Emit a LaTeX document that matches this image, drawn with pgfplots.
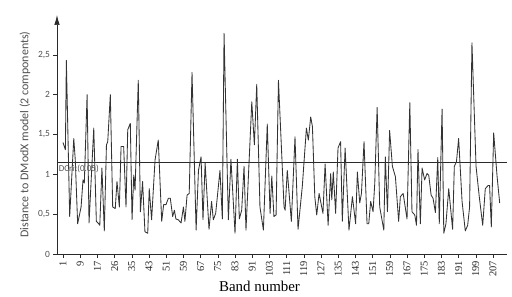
\documentclass[border=0pt]{standalone}
\usepackage{fontspec}
\setmainfont{Liberation Serif}
\newfontfamily\calfont{Carlito}
\usepackage{pgfplots}
\pgfplotsset{compat=1.18}
\usetikzlibrary{arrows.meta}
\definecolor{txtgray}{HTML}{505050}
\definecolor{linegray}{HTML}{2A2A2A}
\begin{document}
\begin{tikzpicture}
\path[use as bounding box] (0,0) rectangle (512bp,297bp);
\begin{axis}[
  at={(57bp,43bp)}, anchor=south west,
  width=450bp, height=239bp, scale only axis,
  xmin=-1.8, xmax=207.5, ymin=0, ymax=3.0,
  axis x line*=bottom,
  axis y line=left,
  x axis line style={-, linegray, line width=0.7bp},
  y axis line style={-{Latex[length=10bp,width=5.5bp]}, linegray, line width=0.7bp},
  xtick={1,9,17,25,33,41,49,57,65,73,81,89,97,105,113,121,129,137,145,153,161,169,177,185,193,201},
  xticklabels={1,9,17,26,35,43,51,59,67,75,83,91,103,111,119,127,135,143,151,159,167,175,183,191,199,207},
  ytick={0,0.5,1,1.5,2,2.5},
  yticklabels={0,{0,5},1,{1,5},2,{2,5}},
  tick align=outside,
  major tick length=3.5bp,
  tick style={linegray, line width=0.6bp},
  xticklabel style={rotate=90, anchor=east, font=\fontsize{10.5}{10.5}\selectfont, text=black!85},
  yticklabel style={font=\calfont\fontsize{9.5}{9.5}\selectfont, text=txtgray},
  xlabel={Band number},
  xlabel style={at={(axis description cs:0.45,-0.134)}, anchor=center, font=\fontsize{15}{15}\selectfont},
  ylabel={Distance to DModX model (2 components)},
  ylabel style={at={(axis description cs:-0.071,0.5)}, anchor=center, font=\calfont\fontsize{12}{12}\selectfont, text=txtgray},
  clip=false,
]
\addplot[linegray, line width=0.7bp] coordinates {(-1.8,1.15) (207.5,1.15)};
\addplot[black!80, line width=0.85bp, line join=round] coordinates {
(1,1.40) (2.1,1.31) (2.55,2.43) (4.1,0.47) (6.0,1.45) (6.7,1.18) (7.8,0.38) (9.4,0.59) (10.3,0.93) (10.9,0.89)
(12.2,2.0) (13.1,0.39) (15.3,1.58) (16.5,0.41) (17.6,0.38) (18.1,0.36) (19.1,1.08) (20.2,0.29) (21.2,1.37) (21.8,1.41)
(23.0,2.0) (24.1,0.59) (25.3,0.57) (26.1,0.91) (27.2,0.59) (28.0,1.35) (29.2,1.35) (30.3,0.59) (31.1,1.56) (32.3,1.64)
(33.1,0.43) (33.9,0.99) (34.5,0.80) (36.0,2.18) (37.0,0.53) (38.0,0.91) (39.1,0.28) (40.4,0.26) (41.1,0.82) (42.2,0.43)
(43.8,1.18) (45.3,1.43) (46.9,0.41) (47.8,0.62) (48.9,0.62) (50.0,0.70) (50.9,0.70) (52.0,0.47) (52.8,0.55) (53.5,0.44)
(54.6,0.43) (55.9,0.39) (57.0,0.59) (57.7,0.41) (58.7,0.74) (59.7,0.76) (61.0,2.28) (62.9,0.30) (64.0,1.05) (65.2,1.22)
(66.1,0.43) (67.1,1.14) (68.9,0.31) (70.1,0.66) (70.9,0.43) (72.0,0.51) (74.0,1.05) (75.1,0.44) (75.9,2.77) (77.9,0.43)
(79.1,1.19) (81.0,0.26) (82.1,1.19) (83.0,0.44) (84.1,0.55) (85.2,1.10) (86.1,0.30) (88.8,1.91) (90.0,1.37) (91.1,2.13)
(92.6,0.59) (94.2,0.30) (96.0,1.63) (97.3,0.51) (98.1,0.98) (99.1,0.47) (100.1,0.49) (101.2,2.18) (103.8,0.59) (104.3,0.55)
(105.3,1.05) (107.2,0.41) (108.9,1.47) (110.3,0.31) (112.3,0.85) (114.2,1.58) (115.1,1.43) (116.2,1.72) (117.0,1.60) (118.1,0.72)
(119.0,0.49) (120.1,0.76) (121.9,0.51) (122.9,1.13) (124.3,0.36) (125.5,1.01) (126.0,0.68) (126.7,1.03) (127.8,0.51) (128.9,1.33)
(130.1,1.41) (130.9,0.41) (132.2,1.33) (134.0,0.30) (135.6,0.72) (137.1,0.38) (137.9,1.03) (139.0,0.64) (139.8,0.76) (141.0,1.41)
(142.4,0.38) (143.2,0.38) (144.1,0.66) (145.2,0.53) (146.0,0.89) (147.1,1.84) (148.3,0.59) (150.2,0.30) (150.9,1.22) (151.9,0.53)
(152.9,1.55) (154.2,1.10) (155.6,0.97) (157.1,0.41) (157.9,0.72) (159.2,0.76) (161.0,0.44) (162.3,1.90) (163.3,0.53) (164.6,0.49)
(165.4,0.36) (166.1,1.31) (167.2,0.38) (168.0,1.08) (169.2,0.93) (170.3,1.01) (171.1,0.99) (172.2,0.74) (173.1,0.70) (174.2,0.52)
(175.3,1.21) (176.0,0.38) (177.3,1.82) (178.1,0.26) (179.1,0.38) (180.4,0.82) (182.2,0.31) (183.0,1.10) (184.0,1.16) (185.0,1.45)
(186.6,0.66) (188.1,0.29) (189.2,0.36) (190.1,0.59) (191.2,2.65) (193.1,1.10) (194.6,0.72) (196.2,0.36) (197.4,0.82) (198.7,0.86)
(199.4,0.86) (200.2,0.34) (201.3,1.52) (202.9,0.97) (204.1,0.64)
};
\node[anchor=west, font=\calfont\fontsize{9}{9}\selectfont, text=txtgray, inner sep=0pt] at (axis cs:-1.0,1.07) {DCrit(0.05)};
\end{axis}
\end{tikzpicture}
\end{document}
